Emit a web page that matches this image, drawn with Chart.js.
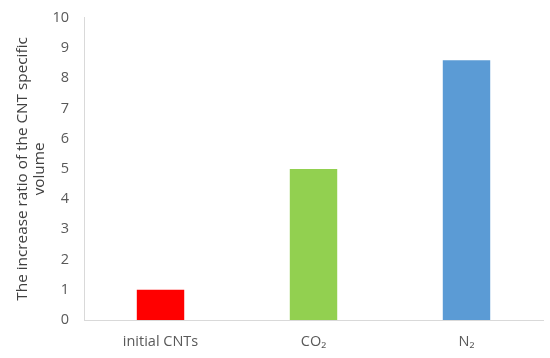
<!DOCTYPE html>
<html>
<head>
<meta charset="utf-8">
<script src="https://cdn.jsdelivr.net/npm/chart.js@4.4.7/dist/chart.umd.min.js"></script>
<style>
  html, body { margin: 0; padding: 0; background: #fff; }
  #wrap { width: 550px; height: 358px; position: relative; }
</style>
</head>
<body>
<div id="wrap"><canvas id="chart"></canvas></div>
<script>
// Data
const categories = ['initial CNTs', 'CO\u2082', 'N\u2082'];
const ratios = [1.0, 5.0, 8.6];
const barColors = ['#ff0000', '#92d050', '#5b9bd5'];
const yTitle = ['The increase ratio of the CNT specific', 'volume'];

const FONT = "'Open Sans', sans-serif";

new Chart(document.getElementById('chart'), {
  type: 'bar',
  data: {
    labels: categories,
    datasets: [
      {
        data: ratios,
        backgroundColor: barColors,
        borderWidth: 0,
        barPercentage: 0.31,
        categoryPercentage: 1.0,
      },
    ],
  },
  options: {
    responsive: true,
    maintainAspectRatio: false,
    animation: false,
    layout: { padding: { top: 0, right: 7, left: 15, bottom: 0 } },
    plugins: {
      legend: { display: false },
      tooltip: { enabled: false },
    },
    scales: {
      x: {
        afterFit: (scale) => { scale.height = 38; },
        grid: { display: false, drawTicks: false },
        border: { display: true, color: '#d9d9d9', width: 1 },
        ticks: { color: '#595959', padding: 15, font: { family: FONT, size: 14.5, lineHeight: 1.0 } },
      },
      y: {
        min: 0,
        max: 10,
        grid: { display: false, drawTicks: false },
        border: { display: true, color: '#d9d9d9', width: 1 },
        ticks: { stepSize: 1, color: '#595959', padding: 15, font: { family: FONT, size: 14.5, lineHeight: 0.4 } },
        title: {
          display: true,
          text: yTitle,
          color: '#404040',
          padding: { top: 0, bottom: -10 },
          font: { family: FONT, size: 15.3, lineHeight: 1.06 },
        },
      },
    },
  },
});
</script>
</body>
</html>
